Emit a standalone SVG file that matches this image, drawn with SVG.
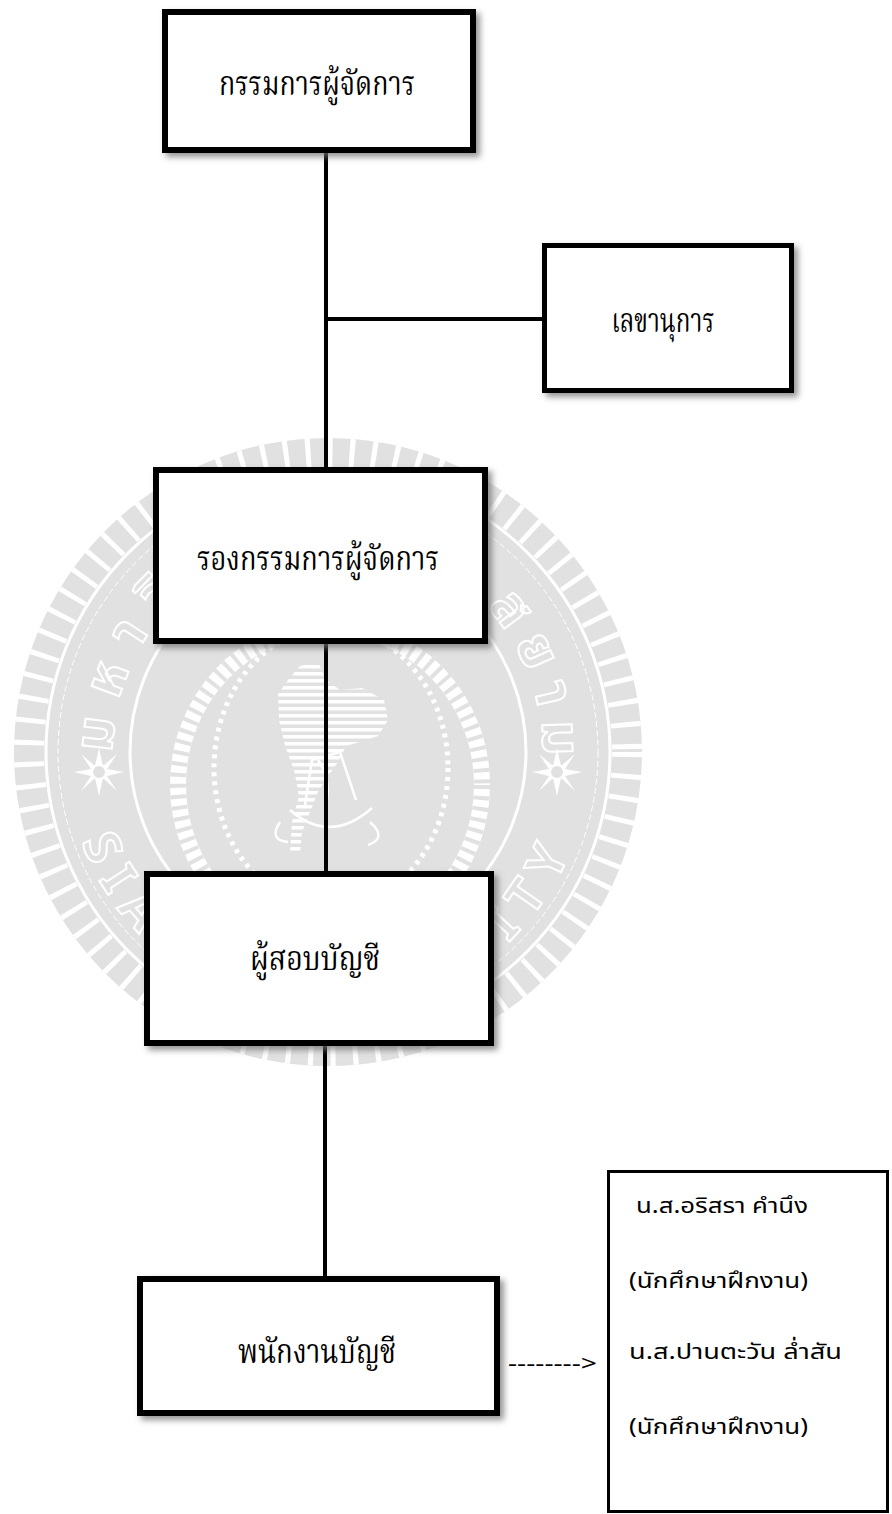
<svg xmlns="http://www.w3.org/2000/svg" width="892" height="1514" viewBox="0 0 892 1514">
<defs>
<style>
.box{fill:#ffffff;stroke:#000000;stroke-width:6;filter:url(#sh);}
.lbl{font-family:"Noto Serif Thai","Kinnari","Norasi","Angsana New","TH Sarabun New","Laksaman","Noto Sans Thai","Liberation Serif",serif;font-size:34px;fill:#000;text-anchor:middle;}
.rt{font-family:"Noto Sans Thai","Noto Sans","Liberation Sans",sans-serif;font-size:22px;fill:#000;}
.wire{stroke:#000;stroke-width:4;fill:none;}
.wm{fill:#e1e1e1;}
.wmt{font-family:"Noto Sans Thai","Noto Sans","Liberation Sans",sans-serif;font-weight:bold;fill:#e1e1e1;stroke:#ffffff;stroke-width:2;}
</style>
<filter id="sh" x="-10%" y="-10%" width="125%" height="130%">
<feDropShadow dx="4" dy="4" stdDeviation="3" flood-color="#707070" flood-opacity="0.75"/>
</filter>
<pattern id="stripes" width="10" height="7" patternUnits="userSpaceOnUse">
<rect x="0" y="0" width="10" height="3.5" fill="#ffffff"/>
</pattern>
<path id="arcTop" d="M120.3,807.6 A215,215 0 1 1 535.7,807.6"/>
<path id="arcBot" d="M81.8,841.6 A262,262 0 0 0 574.2,841.6"/>
</defs>

<g id="watermark">
<circle class="wm" cx="328" cy="752" r="314"/>
<circle cx="328" cy="752" r="299" fill="none" stroke="#ffffff" stroke-width="30" stroke-dasharray="5 17"/>
<circle cx="328" cy="752" r="282" fill="none" stroke="#ffffff" stroke-width="3"/>
<circle cx="328" cy="752" r="270" fill="none" stroke="#ffffff" stroke-width="1" stroke-dasharray="6 3"/>
<text class="wmt" font-size="54" letter-spacing="18"><textPath href="#arcTop" startOffset="7%">มหาวิ</textPath></text>
<text class="wmt" font-size="54" letter-spacing="13"><textPath href="#arcTop" startOffset="95%" text-anchor="end">สยาม</textPath></text>
<text class="wmt" font-size="50" letter-spacing="14"><textPath href="#arcBot" startOffset="0%">SIAM</textPath></text>
<text class="wmt" font-size="50" letter-spacing="14"><textPath href="#arcBot" startOffset="100%" text-anchor="end">RSITY</textPath></text>
<circle cx="328" cy="752" r="198" fill="none" stroke="#ffffff" stroke-width="3"/>
<g fill="#ffffff">
<polygon points="99,748 103,766 117,754 107,769 124,772 107,776 117,791 103,778 99,796 95,778 81,791 91,776 74,772 91,769 81,754 95,766"/>
<polygon points="557,748 561,766 575,754 565,769 582,772 565,776 575,791 561,778 557,796 553,778 539,791 549,776 532,772 549,769 539,754 553,766"/>
</g>
<circle cx="99" cy="772" r="7" fill="#e1e1e1" stroke="#ffffff" stroke-width="2"/>
<circle cx="557" cy="772" r="7" fill="#e1e1e1" stroke="#ffffff" stroke-width="2"/>
<ellipse cx="330" cy="785" rx="152" ry="158" fill="none" stroke="#ffffff" stroke-width="16"/>
<ellipse cx="330" cy="785" rx="152" ry="158" fill="none" stroke="#e1e1e1" stroke-width="16" stroke-dasharray="4 7"/>
<ellipse cx="331" cy="768" rx="117" ry="140" fill="none" stroke="#ffffff" stroke-width="5" stroke-dasharray="4 5"/>
<path fill="url(#stripes)" d="M300,666 L318,662 L326,680 L340,690 L362,688 L384,700 L388,720 L378,736 L360,742 L346,746 L338,762 L328,776 L318,792 L310,812 L302,832 L300,852 L290,852 L292,822 L299,796 L294,770 L285,746 L279,720 L278,694 L288,680 Z"/>
<g fill="none" stroke="#ffffff" stroke-width="2.5">
<path d="M290,810 Q330,845 372,808"/>
<path d="M305,805 L312,760 L340,752 L356,800"/>
<path d="M318,760 Q332,780 326,805"/>
<path d="M280,822 Q268,840 288,842 M370,822 Q388,838 368,845"/>
</g>
</g>

<g id="connectors">
<line class="wire" x1="326" y1="153" x2="326" y2="467"/>
<line class="wire" x1="326" y1="319" x2="545" y2="319"/>
<line class="wire" x1="326" y1="644" x2="326" y2="871"/>
<line class="wire" x1="325" y1="1046" x2="325" y2="1276"/>
</g>

<g id="n1">
<rect class="box" x="165" y="12" width="308" height="138"/>
<text class="lbl" x="317" y="95" textLength="196" lengthAdjust="spacingAndGlyphs">กรรมการผู้จัดการ</text>
</g>
<g id="n2">
<rect class="box" x="544.5" y="245.5" width="247" height="145" style="stroke-width:5"/>
<text class="lbl" x="663" y="332" textLength="103" lengthAdjust="spacingAndGlyphs">เลขานุการ</text>
</g>
<g id="n3">
<rect class="box" x="156" y="470" width="329" height="171"/>
<text class="lbl" x="318" y="570" textLength="242" lengthAdjust="spacingAndGlyphs">รองกรรมการผู้จัดการ</text>
</g>
<g id="n4">
<rect class="box" x="147" y="874" width="344" height="169"/>
<text class="lbl" x="315" y="970" font-size="37" textLength="130" lengthAdjust="spacingAndGlyphs">ผู้สอบบัญชี</text>
</g>
<g id="n5">
<rect class="box" x="140" y="1279" width="357" height="134"/>
<text class="lbl" x="317" y="1363" font-size="38" textLength="158" lengthAdjust="spacingAndGlyphs">พนักงานบัญชี</text>
</g>

<text id="arrow" class="rt" x="508" y="1371" textLength="89" lengthAdjust="spacingAndGlyphs">--------&gt;</text>

<g id="n6">
<rect x="608.5" y="1171.5" width="279" height="340" fill="#ffffff" stroke="#000000" stroke-width="3"/>
<text class="rt" x="636" y="1213" textLength="172" lengthAdjust="spacingAndGlyphs">น.ส.อริสรา คำนึง</text>
<text class="rt" x="629" y="1288" textLength="179" lengthAdjust="spacingAndGlyphs">(นักศึกษาฝึกงาน)</text>
<text class="rt" x="629" y="1359" textLength="213" lengthAdjust="spacingAndGlyphs">น.ส.ปานตะวัน ล่ำสัน</text>
<text class="rt" x="629" y="1434" textLength="179" lengthAdjust="spacingAndGlyphs">(นักศึกษาฝึกงาน)</text>
</g>
</svg>
